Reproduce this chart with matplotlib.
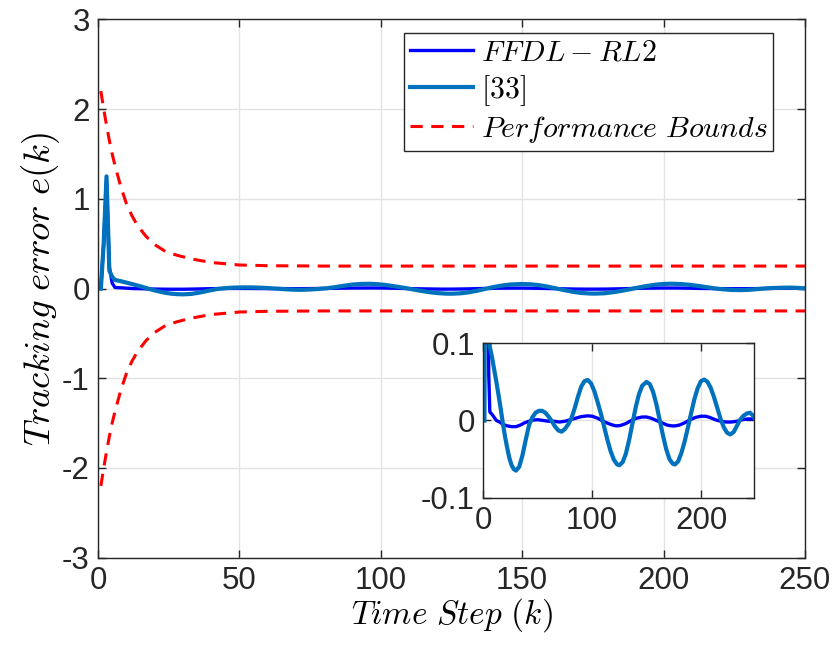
import numpy as np
import matplotlib.pyplot as plt

plt.rcParams['font.family'] = ['Liberation Sans', 'DejaVu Sans']
plt.rcParams['mathtext.fontset'] = 'cm'
plt.rcParams['axes.unicode_minus'] = False

# time steps and tracking errors
k_ffdl = [1, 2, 3, 4, 5, 6, 8, 10, 12, 15, 18, 22, 26, 30, 34, 38, 42, 46, 50,
          55, 60, 65, 70, 75, 80, 85, 90, 96, 100, 105, 110, 115, 119, 122, 126,
          131, 136, 141, 146, 150, 154, 159, 164, 169, 173, 176, 180, 185, 190,
          195, 200, 204, 208, 213, 218, 223, 228, 233, 238, 243, 248, 250]
e_ffdl = [0, 0.5, 1.2, 0.24, 0.06, 0.011, 0.008, 0.004, 0.0, -0.002, -0.005,
          -0.007, -0.008, -0.008, -0.006, -0.003, -0.001, 0.0005, 0.001,
          0.0, -0.001, -0.001, -0.002, -0.001, 0.001, 0.003, 0.005, 0.006,
          0.0055, 0.003, -0.001, -0.004, -0.006, -0.007, -0.0065,
          -0.004, 0.0, 0.003, 0.0045, 0.0045, 0.003, 0.0, -0.003, -0.006, -0.007,
          -0.007, -0.006, -0.003, 0.001,
          0.004, 0.0055, 0.0055, 0.004, 0.001, -0.001, -0.002, -0.002, -0.001,
          0.001, 0.002, 0.002, 0.002]

k_ref = [1, 2, 3, 4, 5, 6, 8, 10, 12, 14, 16, 18, 20, 22, 24, 26, 28, 30,
         33, 36, 39, 42, 45, 48, 51, 54, 57, 60, 63, 66, 69, 72, 75, 78, 81,
         84, 87, 90, 93, 96, 99, 102, 105, 108, 111, 114, 117, 120, 123, 125,
         128, 131, 134, 137, 140, 143, 146, 150, 153, 156, 159, 162, 165, 168,
         171, 174, 176, 179, 182, 185, 188, 191, 194, 197, 200, 203, 206, 209,
         212, 215, 218, 221, 224, 227, 230, 233, 236, 239, 242, 245, 248, 250]
e_ref = [0, 0.5, 1.25, 0.2, 0.13, 0.095, 0.082, 0.066, 0.05, 0.033, 0.015,
         -0.004, -0.021, -0.036, -0.049, -0.058, -0.063, -0.065,
         -0.060, -0.045, -0.025, -0.006, 0.004, 0.010, 0.0125, 0.0125, 0.010,
         0.005, -0.001, -0.008, -0.013, -0.0145, -0.011, -0.005, 0.003,
         0.016, 0.031, 0.044, 0.051, 0.0525, 0.048, 0.038, 0.024, 0.009,
         -0.008, -0.025, -0.040, -0.051, -0.057, -0.058,
         -0.054, -0.043, -0.025, -0.004, 0.017, 0.034, 0.045, 0.050, 0.047,
         0.037, 0.021, 0.001, -0.019, -0.037, -0.050, -0.056, -0.057, -0.053,
         -0.042, -0.027, -0.009, 0.010, 0.028, 0.042, 0.051, 0.053, 0.050,
         0.042, 0.030, 0.016, 0.002, -0.009, -0.016, -0.018, -0.015, -0.007,
         0.001, 0.006, 0.009, 0.010, 0.006, 0.001]

k_bound = [1, 2, 3, 4, 5, 6, 8, 10, 12, 14, 17, 20, 24, 28, 33, 40, 50, 60,
           80, 250]
bound = [2.2, 2.0, 1.82, 1.65, 1.5, 1.37, 1.14, 0.95, 0.81, 0.70, 0.58, 0.49,
         0.41, 0.37, 0.33, 0.29, 0.262, 0.254, 0.25, 0.25]

c_ffdl = (0, 0, 1)
c_ref = (0, 0.447, 0.741)
grid_c = '#e3e3e3'
ax_c = '#262626'


def style(ax, fs):
    ax.grid(True, color=grid_c, lw=1.0)
    ax.set_axisbelow(True)
    for s in ax.spines.values():
        s.set_color(ax_c)
        s.set_linewidth(1.0)
    ax.tick_params(direction='in', length=6, width=1.0, colors=ax_c,
                   labelsize=fs, labelcolor=ax_c, top=True, right=True, pad=6)


fig = plt.figure(figsize=(8.35, 6.52), dpi=100)
ax = fig.add_axes([0.1174, 0.1446, 0.8466, 0.8258])
ax.plot(k_ffdl, e_ffdl, color=c_ffdl, lw=2.4, label=r'$FFDL-RL2$')
ax.plot(k_ref, e_ref, color=c_ref, lw=3.0, label=r'$[33]$')
ax.plot(k_bound, bound, 'r--', lw=2.2, dashes=(4, 2.8), label=r'$Performance\ Bounds$')
ax.plot(k_bound, [-b for b in bound], 'r--', lw=2.2, dashes=(4, 2.8))
ax.set_xlim(0, 250)
ax.set_ylim(-3, 3)
ax.set_xticks([0, 50, 100, 150, 200, 250])
ax.set_yticks([-3, -2, -1, 0, 1, 2, 3])
style(ax, 22.5)
ax.set_xlabel(r'$Time\ Step\ (k)$', fontsize=24, labelpad=0)
ax.set_ylabel(r'$Tracking\ error\ e(k)$', fontsize=26.5, labelpad=0)
leg = ax.legend(loc='upper right', bbox_to_anchor=(0.955, 0.9746), fontsize=21.5,
                frameon=True, fancybox=False, edgecolor=ax_c, framealpha=1,
                handlelength=2.1, handletextpad=0.27, borderpad=0.2,
                labelspacing=0.2, borderaxespad=0)
leg.get_frame().set_linewidth(1.0)

ins = fig.add_axes([0.5788, 0.2367, 0.3246, 0.2368])
ins.plot(k_ffdl, e_ffdl, color=c_ffdl, lw=2.4)
ins.plot(k_ref, e_ref, color=c_ref, lw=3.0)
ins.set_xlim(0, 249)
ins.set_ylim(-0.1, 0.1)
ins.set_xticks([0, 100, 200])
ins.set_yticks([-0.1, 0, 0.1])
ins.set_yticklabels(['-0.1', '0', '0.1'])
style(ins, 22.5)

fig.savefig('out.png', dpi=100)
